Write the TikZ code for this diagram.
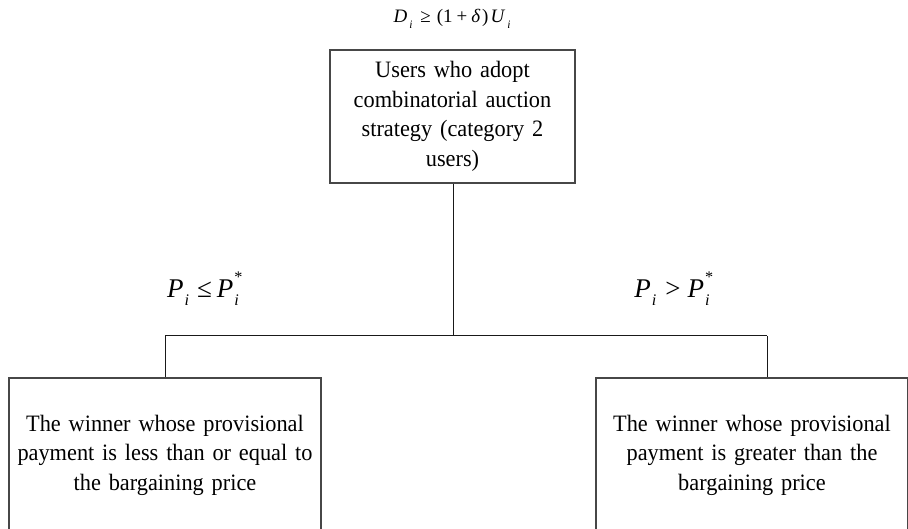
\documentclass[tikz,border=0pt]{standalone}
\usepackage{fontspec}
\setmainfont[FakeStretch=0.95,WordSpace=0.65]{Liberation Serif}
\newfontfamily\mathlike{Liberation Serif}
\newcommand{\vsub}[1]{\raisebox{-0.3em}{\scalebox{0.6}{\itshape #1}}}
\newcommand{\vsubsup}[2]{\rlap{\raisebox{0.55em}{\scalebox{0.6}{#2}}}\raisebox{-0.3em}{\scalebox{0.6}{\itshape #1}}}
\begin{document}
\begin{tikzpicture}[x=1pt,y=-1pt,
  box/.style={draw=black!72, line width=1.4pt, align=center, inner sep=0pt, fill=none,
    font=\fontsize{23.5}{29.5}\selectfont},
  conn/.style={draw=black!90, line width=1pt},
  lab/.style={inner sep=0pt, font=\mathlike\fontsize{19}{22}\selectfont}]
\useasboundingbox (0,0) rectangle (908,529);
\clip (0,0) rectangle (908,529);
\fill[white] (0,0) rectangle (908,529);
\node[box, minimum width=245pt, minimum height=133pt, text width=235pt] (top) at (452.5,116.5)
  {Users who adopt\\combinatorial auction\\strategy (category 2\\users)};
\node[box, minimum width=312pt, minimum height=154pt, text width=305pt] (left) at (165,455)
  {The winner whose provisional\\payment is less than or equal to\\the bargaining price};
\node[box, minimum width=312pt, minimum height=154pt, text width=305pt] (right) at (752,455)
  {The winner whose provisional\\payment is greater than the\\bargaining price};
\node[lab] (eqtop) at (452,19)
  {{\itshape D}\hspace{2pt}\vsub{i}\hspace{8pt}≥\hspace{6pt}(1\hspace{4pt}+\hspace{4pt}{\itshape δ}\hspace{2pt})\hspace{2pt}{\itshape U}\hspace{3pt}\vsub{i}};
\node[lab, font=\mathlike\fontsize{27}{30}\selectfont] (eql) at (203,289)
  {{\itshape P}\hspace{1pt}\vsub{i}\hspace{8pt}≤\hspace{5pt}{\itshape P}\hspace{1pt}\vsubsup{i}{*}\hspace{5pt}};
\node[lab, font=\mathlike\fontsize{27}{30}\selectfont] (eqr) at (672,289)
  {{\itshape P}\hspace{1pt}\vsub{i}\hspace{9pt}>\hspace{7pt}{\itshape P}\hspace{1pt}\vsubsup{i}{*}\hspace{5pt}};
\coordinate (j) at (453,336);
\coordinate (jl) at (165,336);
\coordinate (jr) at (767,336);
\draw[conn] (top.south -| j) -- (j);
\draw[conn] (jl) -- (jr);
\draw[conn] (jl) -- (jl |- left.north);
\draw[conn] (jr) -- (jr |- right.north);
\end{tikzpicture}
\end{document}
